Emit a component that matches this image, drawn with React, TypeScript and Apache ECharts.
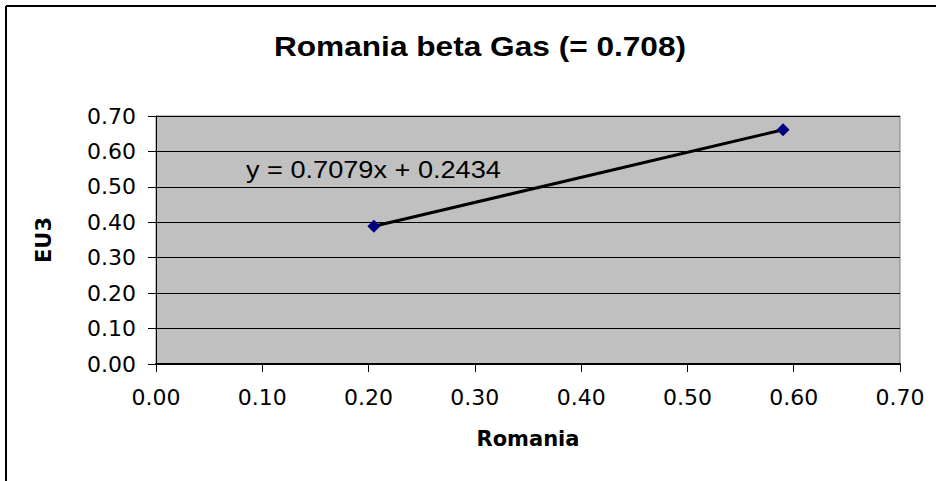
import React, { useEffect, useRef } from "react";
import * as echarts from "echarts";

const TITLE = "Romania beta Gas (= 0.708)";
const X_NAME = "Romania";
const Y_NAME = "EU3";
const EQUATION = "y = 0.7079x + 0.2434";
const romania = [0.205, 0.59];
const eu3 = [0.389, 0.661];

const FONT = "'Liberation Sans', Arial, sans-serif";
const WIDE = "'DejaVu Sans', sans-serif";

export default function App() {
  const ref = useRef<HTMLDivElement>(null);
  useEffect(() => {
    if (!ref.current) return;
    const chart = echarts.init(ref.current, null, { renderer: "svg" });
    const points = romania.map((x, i) => [x, eu3[i]]);
    chart.setOption({
      animation: false,
      backgroundColor: "#ffffff",
      textStyle: { fontFamily: FONT },
      grid: { left: 156, top: 116, right: 36, bottom: 117, show: true, backgroundColor: "#c0c0c0", borderColor: "#808080", borderWidth: 1 },
      xAxis: {
        type: "value",
        min: 0,
        max: 0.7,
        interval: 0.1,
        name: X_NAME,
        nameLocation: "middle",
        nameGap: 64,
        nameTextStyle: { fontFamily: WIDE, fontSize: 21, fontWeight: "bold", color: "#000" },
        axisLine: { show: true, lineStyle: { color: "#000", width: 2 } },
        axisTick: { show: true, length: 8, lineStyle: { color: "#000" } },
        axisLabel: { formatter: (v: number) => v.toFixed(2), fontSize: 22, color: "#000", margin: 22, fontFamily: WIDE },
        splitLine: { show: false },
      },
      yAxis: {
        type: "value",
        min: 0,
        max: 0.7,
        interval: 0.1,
        name: Y_NAME,
        nameLocation: "middle",
        nameGap: 102,
        nameRotate: 90,
        nameTextStyle: { fontFamily: WIDE, fontSize: 21, fontWeight: "bold", color: "#000" },
        axisLine: { show: true, lineStyle: { color: "#000", width: 1 } },
        axisTick: { show: true, length: 8, lineStyle: { color: "#000" } },
        axisLabel: { formatter: (v: number) => v.toFixed(2), fontSize: 22, color: "#000", margin: 20, fontFamily: WIDE },
        splitLine: { show: true, lineStyle: { color: "#000", width: 1 } },
      },
      series: [
        {
          type: "line",
          data: points,
          symbol: "diamond",
          symbolSize: 13,
          itemStyle: { color: "#000080" },
          lineStyle: { color: "#000", width: 3 },
          z: 3,
        },
      ],
      graphic: [
        { type: "line", shape: { x1: 6, y1: 6, x2: 936, y2: 6 }, style: { stroke: "#000", lineWidth: 2 } },
        { type: "line", shape: { x1: 6, y1: 6, x2: 6, y2: 481 }, style: { stroke: "#000", lineWidth: 2 } },
        {
          type: "text",
          x: 480,
          y: 46,
          scaleX: 1.13,
          style: { text: TITLE, fontFamily: FONT, fontSize: 28, fontWeight: "bold", fill: "#000", textAlign: "center", textVerticalAlign: "middle" },
        },
        {
          type: "text",
          x: 246,
          y: 170,
          scaleX: 1.18,
          style: { text: EQUATION, fontFamily: FONT, fontSize: 23, fill: "#000", textAlign: "left", textVerticalAlign: "middle" },
          z: 10,
        },
      ],
    });
    return () => chart.dispose();
  }, []);
  return <div ref={ref} style={{ width: 936, height: 481, position: "absolute", left: 0, top: 0 }} />;
}
